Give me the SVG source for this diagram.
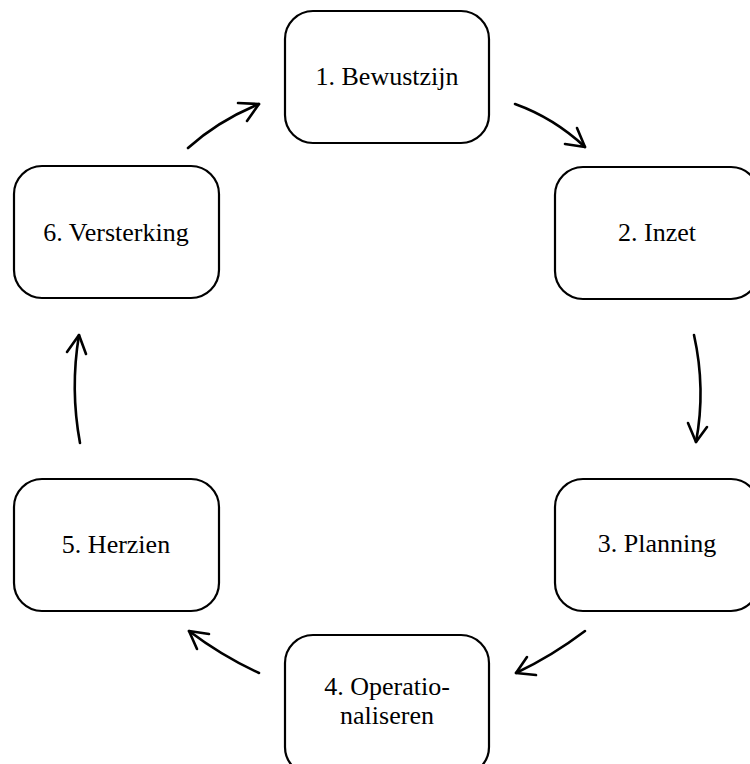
<svg xmlns="http://www.w3.org/2000/svg" width="750" height="764" viewBox="0 0 750 764">
<style>
.box{fill:#fff;stroke:#000;stroke-width:2.2}
.lbl{font-family:"Liberation Serif","Times New Roman",serif;font-size:26px;fill:#000;text-anchor:middle}
.arr{fill:none;stroke:#000;stroke-width:2.6;stroke-linecap:round;stroke-linejoin:round}
</style>
<rect width="750" height="764" fill="#fff"/>
<g id="node1"><rect class="box" x="285" y="11" width="204" height="132" rx="28"/><text class="lbl" x="387" y="85">1. Bewustzijn</text></g>
<g id="node2"><rect class="box" x="555" y="167" width="204" height="132" rx="28"/><text class="lbl" x="657" y="241">2. Inzet</text></g>
<g id="node3"><rect class="box" x="555" y="479" width="204" height="132" rx="28"/><text class="lbl" x="657" y="552">3. Planning</text></g>
<g id="node4"><rect class="box" x="285" y="635" width="204" height="140" rx="28"/><text class="lbl" x="387" y="695">4. Operatio-</text><text class="lbl" x="387" y="724">naliseren</text></g>
<g id="node5"><rect class="box" x="14" y="479" width="205" height="132" rx="28"/><text class="lbl" x="116" y="553">5. Herzien</text></g>
<g id="node6"><rect class="box" x="14" y="166" width="205" height="132" rx="28"/><text class="lbl" x="116" y="241">6. Versterking</text></g>
<g id="connectors">
<path class="arr" d="M188,148 Q218,121 259,104"/><polyline class="arr" points="238,103 259,104 247,121"/>
<path class="arr" d="M515,104 Q554,118 585,147"/><polyline class="arr" points="565,144 585,147 577,128"/>
<path class="arr" d="M694,335 Q706,389 696,442"/><polyline class="arr" points="688,423 696,442 707,427"/>
<path class="arr" d="M585,631 Q552,656 516,673"/><polyline class="arr" points="527,657 516,673 536,675"/>
<path class="arr" d="M259,673 Q222,656 189,631"/><polyline class="arr" points="209,634 189,631 197,649"/>
<path class="arr" d="M80,443 Q70,389 79,335"/><polyline class="arr" points="67,352 79,335 86,354"/>
</g>
</svg>
